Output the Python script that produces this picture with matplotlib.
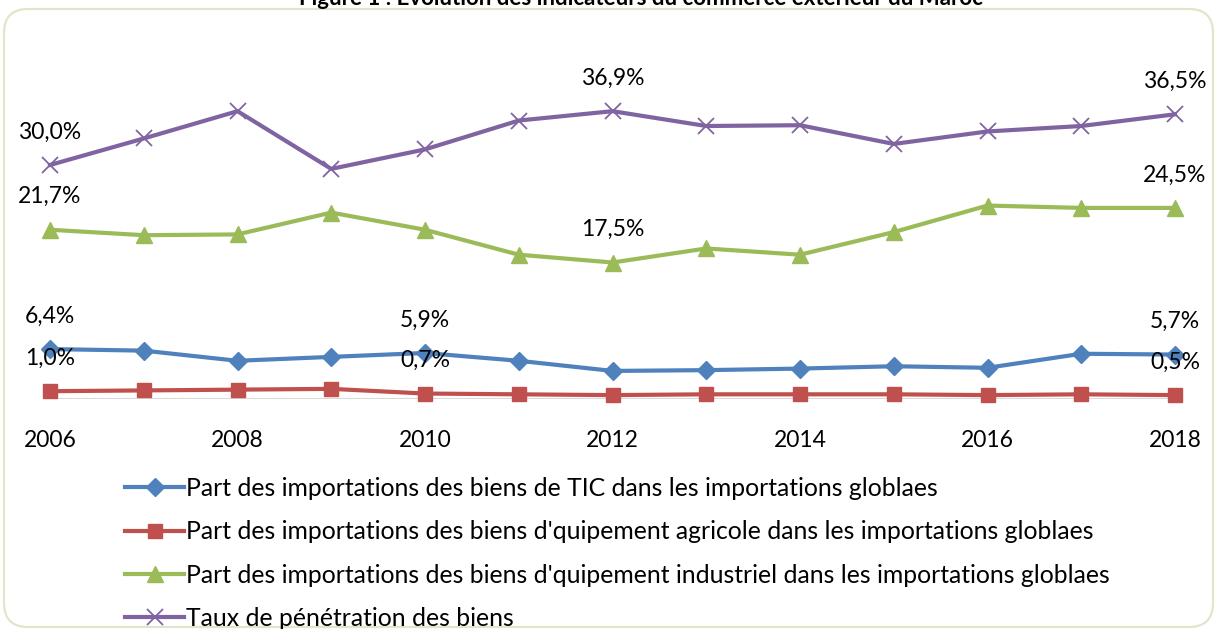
import matplotlib
matplotlib.use("Agg")
import matplotlib.pyplot as plt
from matplotlib.patches import FancyBboxPatch
from matplotlib.transforms import IdentityTransform

plt.rcParams['font.family'] = ['Lato', 'DejaVu Sans']

years = list(range(2006, 2019))
tick_years = years[::2]

tic = [6.4, 6.2, 4.9, 5.4, 5.9, 4.9, 3.6, 3.7, 3.9, 4.2, 4.0, 5.8, 5.7]
agricole = [1.0, 1.1, 1.2, 1.3, 0.7, 0.6, 0.5, 0.6, 0.6, 0.6, 0.5, 0.6, 0.5]
industriel = [21.7, 21.0, 21.1, 23.9, 21.7, 18.5, 17.5, 19.3, 18.5, 21.4, 24.8, 24.5, 24.5]
penetration = [30.0, 33.4, 36.9, 29.5, 32.0, 35.7, 36.9, 35.0, 35.1, 32.7, 34.3, 35.0, 36.5]

labels = [
    "Part des importations des biens de TIC dans les importations globlaes",
    "Part des importations des biens d'quipement agricole dans les importations globlaes",
    "Part des importations des biens d'quipement industriel dans les importations globlaes",
    "Taux de pénétration des biens",
]
title = "Figure 1 : Evolution des indicateurs du commerce extérieur du Maroc"

# years whose value gets a data label, per series
tic_lab_years = [2006, 2010, 2018]
agr_lab_years = [2006, 2010, 2018]
ind_lab_years = [2006, 2012, 2018]
pen_lab_years = [2006, 2012, 2018]

W, H = 1215, 629
fig = plt.figure(figsize=(W / 100, H / 100), dpi=100)

# plot area: 2006 -> x=50px, 2018 -> x=1175px ; 0% -> y=399px, 7.8px per %
ymax = 40
ax = fig.add_axes([50 / W, (H - 399) / H, 1125 / W, ymax * 7.8 / H])
ax.set_xlim(2006, 2018)
ax.set_ylim(0, ymax)
for s in ax.spines.values():
    s.set_visible(False)
ax.set_yticks([])
ax.set_xticks(tick_years)
ax.set_xticklabels([str(y) for y in tick_years], fontsize=16.5)
ax.tick_params(axis='x', length=0, pad=22)
ax.hlines(0, years[0], years[-1], color='#D9D9D9', lw=1.5, zorder=1)

series = [
    (tic, '#4F81BD', 'D', 9, tic_lab_years),
    (agricole, '#C0504D', 's', 10, agr_lab_years),
    (industriel, '#9BBB59', '^', 11, ind_lab_years),
    (penetration, '#8064A2', 'x', 11, pen_lab_years),
]

for (vals, col, mk, ms, lab_years), lab in zip(series, labels):
    mew = 1.3 if mk == 'x' else 1
    ax.plot(years, vals, color=col, lw=3, marker=mk, markersize=ms,
            markeredgewidth=mew, label=lab, clip_on=False, zorder=3)
    for y in lab_years:
        v = vals[years.index(y)]
        ax.annotate(f"{v:.1f}%".replace('.', ','), (y, v), xytext=(0, 33),
                    textcoords='offset pixels', ha='center', va='center',
                    fontsize=16.5, color='black', zorder=4)

handles, hl = ax.get_legend_handles_labels()
fig.legend(handles, hl, loc='upper left',
           bbox_to_anchor=(125 / W, (H - 477) / H),
           frameon=False, fontsize=17.8, handlelength=2.4,
           handletextpad=0.05, labelspacing=0.82, borderaxespad=0,
           borderpad=0)

fig.text(641 / W, 1 - 5 / H, title, ha='center', va='baseline',
         fontsize=16, fontweight='bold')

frame = FancyBboxPatch((4, 2), 1209, 618,
                       boxstyle='round,pad=0,rounding_size=24',
                       transform=IdentityTransform(), fill=False,
                       edgecolor='#E4E4CC', lw=1.6)
fig.patches.append(frame)

fig.savefig('out.png', dpi=100)
